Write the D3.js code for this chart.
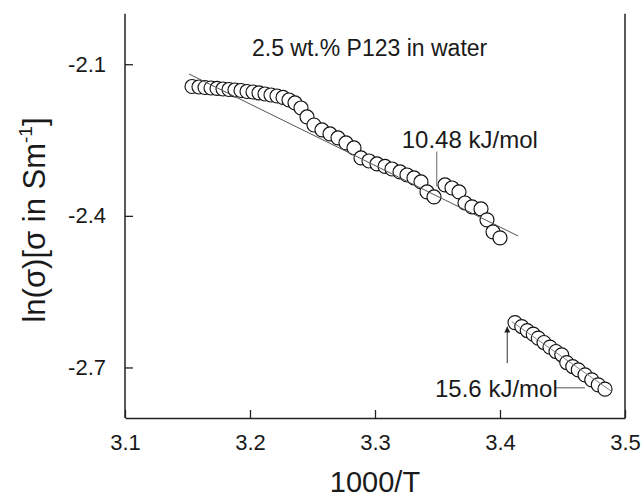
<!DOCTYPE html>
<html><head><meta charset="utf-8">
<script src="https://cdn.jsdelivr.net/npm/d3@7"></script>
<style>body{margin:0;background:#fff}svg{display:block}text{font-family:"Liberation Sans",Arial,sans-serif;fill:#1a1a1a}</style>
</head><body>
<script>
// ---- data ----
const upperX = [3.1536,3.1592,3.1640,3.1688,3.1736,3.1784,3.1832,3.1880,3.1928,3.1976,3.2024,3.2072,3.2120,3.2168,3.2216,3.2264,3.2312,3.2360,3.2408,3.2456,3.2512,3.2576,3.2640,3.2704,3.2768,3.2832,3.2888,3.2952,3.3016,3.3080,3.3136,3.3200,3.3256,3.3312,3.3368,3.3416,3.3472,3.3560,3.3616,3.3672,3.3720,3.3776,3.3848,3.3896,3.3944,3.4000];
const upperY = [-2.1440,-2.1450,-2.1460,-2.1470,-2.1479,-2.1489,-2.1499,-2.1509,-2.1519,-2.1539,-2.1549,-2.1568,-2.1588,-2.1608,-2.1628,-2.1657,-2.1707,-2.1766,-2.1865,-2.2043,-2.2202,-2.2300,-2.2379,-2.2458,-2.2557,-2.2656,-2.2854,-2.2914,-2.2973,-2.3022,-2.3072,-2.3131,-2.3191,-2.3250,-2.3329,-2.3527,-2.3626,-2.3388,-2.3448,-2.3527,-2.3745,-2.3823,-2.3863,-2.4080,-2.4318,-2.4436];
const lowerX = [3.4120,3.4174,3.4218,3.4266,3.4306,3.4352,3.4400,3.4448,3.4494,3.4534,3.4582,3.4626,3.4680,3.4734,3.4786,3.4840];
const lowerY = [-2.6112,-2.6191,-2.6270,-2.6341,-2.6420,-2.6507,-2.6598,-2.6685,-2.6750,-2.6903,-2.6982,-2.7047,-2.7146,-2.7245,-2.7344,-2.7429];
const fitUpper = [[3.1512,-2.1193],[3.4144,-2.4397]];
const fitLower = [[3.4094,-2.6092],[3.4894,-2.7476]];
const xTicks = [3.1,3.2,3.3,3.4,3.5];
const yTicks = [-2.1,-2.4,-2.7];
const title = "2.5 wt.% P123 in water";
const labelUpper = "10.48 kJ/mol";
const labelLower = "15.6 kJ/mol";

// ---- layout ----
const W=644,H=499;
const svg=d3.select("body").append("svg").attr("width",W).attr("height",H);
const x=d3.scaleLinear().domain([3.1,3.5]).range([125,625]);
const y=d3.scaleLinear().domain([-2.8,-2.0]).range([418,13.7]);

svg.append("defs").append("marker").attr("id","ah").attr("viewBox","0 0 10 10")
  .attr("refX",10).attr("refY",5).attr("markerWidth",8).attr("markerHeight",6)
  .attr("markerUnits","userSpaceOnUse").attr("orient","auto")
  .append("path").attr("d","M0,0L10,5L0,10Z").attr("fill","#222");

// axes
const gx=svg.append("g").attr("transform","translate(0,418)")
  .call(d3.axisBottom(x).tickValues(xTicks).tickSizeInner(-8).tickSizeOuter(0).tickPadding(16).tickFormat(d3.format(".1f")));
const gy=svg.append("g").attr("transform","translate(125,0)")
  .call(d3.axisLeft(y).tickValues(yTicks).tickSizeInner(-8).tickSizeOuter(0).tickPadding(19).tickFormat(d=>d3.format(".1f")(d).replace("−","-")));
[gx,gy].forEach(g=>{
  g.select(".domain").attr("stroke","#222").attr("stroke-width",1.5);
  g.selectAll(".tick line").attr("stroke","#222").attr("stroke-width",1.3);
  g.selectAll(".tick text").attr("font-size",22).attr("fill","#1a1a1a").attr("font-family","Liberation Sans, Arial, sans-serif");
});
gy.select(".domain").attr("d",`M0,${y(-2.0)}V${y(-2.8)}`);
svg.append("line").attr("x1",x(3.5)).attr("x2",x(3.5)).attr("y1",y(-2.0)).attr("y2",y(-2.8)).attr("stroke","#222").attr("stroke-width",1.5);

// axis titles
svg.append("text").attr("x",(x(3.1)+x(3.5))/2).attr("y",492).attr("text-anchor","middle").attr("font-size",29).text("1000/T");
const yl=svg.append("text").attr("transform",`translate(45,220) rotate(-90)`).attr("text-anchor","middle").attr("font-size",31);
yl.append("tspan").text("ln(σ)[σ in Sm");
yl.append("tspan").attr("font-size",19).attr("dy",-13).text("-1");
yl.append("tspan").attr("dy",13).text("]");

// title
svg.append("text").attr("x",x(3.2016)).attr("y",y(-2.0837)).attr("font-size",23).text(title);

// points
const line=d3.line().x(d=>x(d[0])).y(d=>y(d[1]));
const ptsU=upperX.map((v,i)=>[v,upperY[i]]);
const ptsL=lowerX.map((v,i)=>[v,lowerY[i]]);
svg.append("g").selectAll("circle").data(ptsU.concat(ptsL)).join("circle")
  .attr("cx",d=>x(d[0])).attr("cy",d=>y(d[1])).attr("r",7)
  .attr("fill","#fff").attr("stroke","#111").attr("stroke-width",1.15);

// fit lines
svg.append("path").attr("d",line(fitUpper)).attr("stroke","#555").attr("stroke-width",1).attr("fill","none");
svg.append("path").attr("d",line(fitLower)).attr("stroke","#777").attr("stroke-width",0.9).attr("fill","none");

// annotations
svg.append("text").attr("x",x(3.3214)).attr("y",y(-2.2662)).attr("font-size",24).text(labelUpper);
svg.append("line").attr("x1",x(3.3494)).attr("x2",x(3.3494)).attr("y1",y(-2.2729)).attr("y2",y(-2.3422)).attr("stroke","#666").attr("stroke-width",1);
svg.append("text").attr("x",x(3.348)).attr("y",y(-2.7575)).attr("font-size",24).text(labelLower);
svg.append("line").attr("x1",x(3.4448)).attr("x2",x(3.468)).attr("y1",y(-2.7403)).attr("y2",y(-2.7403)).attr("stroke","#555").attr("stroke-width",1);
svg.append("line").attr("x1",x(3.4058)).attr("x2",x(3.4058)).attr("y1",y(-2.6915)).attr("y2",y(-2.6191)).attr("stroke","#333").attr("stroke-width",1).attr("marker-end","url(#ah)");
</script>
</body></html>
